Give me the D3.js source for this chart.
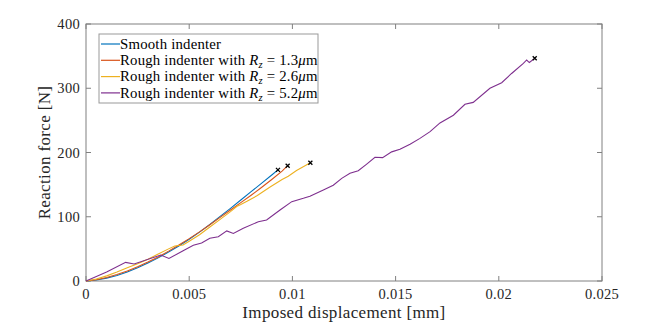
<!DOCTYPE html>
<html>
<head>
<meta charset="utf-8">
<script src="https://cdn.jsdelivr.net/npm/d3@7"></script>
<style>
  body { margin: 0; background: #fff; }
  svg { font-family: "Liberation Serif", "Times New Roman", serif; }
</style>
</head>
<body>
<div id="chart"></div>
<script>
// data: [displacement mm, force N]
const smooth = [[0,0],[0.0005,1.5],[0.001,4.5],[0.0015,8.5],[0.002,14],[0.0025,20.5],[0.003,28],[0.0035,36],
  [0.004,45],[0.0045,54.5],[0.005,65],[0.0055,76],[0.006,88],[0.0065,100.5],[0.007,113],[0.0075,126],
  [0.008,139],[0.0085,152],[0.009,165],[0.0093,173]];
const rough13 = [[0,0],[0.0005,2],[0.001,5.5],[0.0015,10],[0.002,15.5],[0.0025,22],[0.003,29.5],[0.0035,37.5],
  [0.004,46.5],[0.0045,56],[0.005,66],[0.0055,76.5],[0.006,87.5],[0.0065,99],[0.007,110.5],[0.0075,122],
  [0.008,133.5],[0.0085,145.5],[0.009,158],[0.0095,171],[0.00977,179.5]];
const rough26 = [[0,0],[0.0005,3],[0.001,8],[0.0015,14],[0.002,20.5],[0.0025,27],[0.003,34],[0.0035,42],
  [0.004,50],[0.0043,54.5],[0.0047,56],[0.005,62],[0.0055,72],[0.006,84],[0.0065,96],[0.007,108],
  [0.0073,116],[0.0075,119],[0.0078,124],[0.0083,133],[0.0089,146],[0.0095,158],[0.0098,163],
  [0.0102,172],[0.01087,184]];
const rough52 = [[0,0],[0.001,14],[0.00192,29],[0.00233,26.5],[0.00362,40.5],[0.00402,35],[0.00475,48],
  [0.0052,55.5],[0.0056,59],[0.006,66.5],[0.00641,69],[0.00682,78],[0.00714,74],[0.00762,82],
  [0.00835,92.3],[0.00875,95],[0.0094,110.5],[0.00997,123.5],[0.01053,128.7],[0.01085,132],
  [0.0115,141.6],[0.01198,149],[0.01239,159.8],[0.01279,167.6],[0.01319,171.7],[0.0136,182],
  [0.014,192.5],[0.01437,192],[0.01481,201],[0.01521,205],[0.0157,213],[0.01618,222],[0.01667,232.4],
  [0.01715,246],[0.0178,258],[0.01836,275],[0.01876,278],[0.01957,300],[0.02014,308.6],[0.02062,323],
  [0.02119,338.8],[0.02135,344],[0.02148,340],[0.02174,346.6]];

const seriesNames = ["Smooth indenter", "Rough indenter with ", "Rough indenter with ", "Rough indenter with "];
const rzValues = [null, "1.3", "2.6", "5.2"];
const colors = ["#0072BD", "#D95319", "#EDB120", "#7E2F8E"];
const xTicks = [0, 0.005, 0.01, 0.015, 0.02, 0.025];
const yTicks = [0, 100, 200, 300, 400];

var margin = {top: 24, right: 62, bottom: 43, left: 86},
    width = 664 - margin.left - margin.right,
    height = 324 - margin.top - margin.bottom;

const svg = d3.select("#chart").append("svg")
    .attr("width", 664).attr("height", 324)
  .append("g")
    .attr("transform", `translate(${margin.left},${margin.top})`);

const x = d3.scaleLinear().domain([0, 0.025]).range([0, width]);
const y = d3.scaleLinear().domain([0, 400]).range([height, 0]);

const axisColor = "#808080";
const tickLen = 5;

// box
svg.append("rect").attr("width", width).attr("height", height)
    .attr("fill", "none").attr("stroke", axisColor).attr("stroke-width", 1);

// ticks (inward, all sides) + labels
xTicks.forEach(t => {
  svg.append("line").attr("x1", x(t)).attr("x2", x(t)).attr("y1", height).attr("y2", height - tickLen)
      .attr("stroke", axisColor);
  svg.append("line").attr("x1", x(t)).attr("x2", x(t)).attr("y1", 0).attr("y2", tickLen)
      .attr("stroke", axisColor);
  svg.append("text").attr("x", x(t)).attr("y", height + 18).attr("text-anchor", "middle")
      .attr("font-size", 14.5).attr("letter-spacing", 0.3).attr("fill", "#262626")
      .text(t === 0 ? "0" : d3.format("")(t));
});
yTicks.forEach(t => {
  svg.append("line").attr("x1", 0).attr("x2", tickLen).attr("y1", y(t)).attr("y2", y(t))
      .attr("stroke", axisColor);
  svg.append("line").attr("x1", width).attr("x2", width - tickLen).attr("y1", y(t)).attr("y2", y(t))
      .attr("stroke", axisColor);
  svg.append("text").attr("x", -6).attr("y", y(t)).attr("dy", "0.35em").attr("text-anchor", "end")
      .attr("font-size", 14.5).attr("letter-spacing", 0.3).attr("fill", "#262626").text(t);
});

// axis titles
svg.append("text").attr("x", width / 2).attr("y", height + 37).attr("text-anchor", "middle")
    .attr("font-size", 17).attr("letter-spacing", 0.35).attr("fill", "#262626")
    .text("Imposed displacement [mm]");
svg.append("text").attr("transform", `translate(${-36},${height / 2}) rotate(-90)`)
    .attr("text-anchor", "middle").attr("font-size", 17).attr("letter-spacing", 0.35)
    .attr("fill", "#262626").text("Reaction force [N]");

// lines
const line = d3.line().x(d => x(d[0])).y(d => y(d[1]));
[smooth, rough13, rough26, rough52].forEach((data, i) => {
  svg.append("path").datum(data)
      .attr("fill", "none").attr("stroke", colors[i]).attr("stroke-width", 1.1)
      .attr("d", line);
});

// end markers
[smooth, rough13, rough26, rough52].forEach(data => {
  const p = data[data.length - 1];
  const cx = x(p[0]), cy = y(p[1]), s = 2;
  svg.append("path")
      .attr("d", `M${cx - s},${cy - s}L${cx + s},${cy + s}M${cx - s},${cy + s}L${cx + s},${cy - s}`)
      .attr("stroke", "#000").attr("stroke-width", 1.3).attr("fill", "none");
});

// legend
const lg = svg.append("g").attr("transform", `translate(${99 - margin.left},${34 - margin.top})`);
lg.append("rect").attr("width", 219).attr("height", 69)
    .attr("fill", "#fff").attr("stroke", "#999").attr("stroke-width", 1);
seriesNames.forEach((name, i) => {
  const yy = 10 + i * 16.3;
  lg.append("line").attr("x1", 2).attr("x2", 21).attr("y1", yy).attr("y2", yy)
      .attr("stroke", colors[i]).attr("stroke-width", 1.2);
  const t = lg.append("text").attr("x", 21).attr("y", yy).attr("dy", "0.33em")
      .attr("font-size", 14.8).attr("letter-spacing", 0.2).attr("fill", "#000");
  t.append("tspan").text(name);
  if (rzValues[i]) {
    t.append("tspan").attr("font-style", "italic").text("R");
    t.append("tspan").attr("font-style", "italic").attr("font-size", 10.5).attr("dy", 3).text("z");
    t.append("tspan").attr("dy", -3).text(" = " + rzValues[i]);
    t.append("tspan").attr("font-style", "italic").text("\u03bc");
    t.append("tspan").text("m");
  }
});
</script>
</body>
</html>
